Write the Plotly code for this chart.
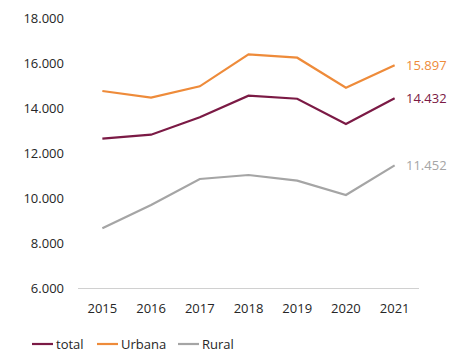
import plotly.graph_objects as go

years = ["2015", "2016", "2017", "2018", "2019", "2020", "2021"]
total = [12636, 12813, 13585, 14547, 14413, 13289, 14432]
urbana = [14756, 14458, 14963, 16385, 16236, 14903, 15897]
rural = [8652, 9689, 10844, 11022, 10770, 10133, 11452]

series = [
    ("total", total, "#7B1A45"),
    ("Urbana", urbana, "#EE8B3A"),
    ("Rural", rural, "#A5A5A5"),
]

# the page body adds an 8px offset; layout numbers are in figure coordinates
W, H = 472, 360
L, R, T, B = 70, 61, 10, 80
PW, PH = W - L - R, H - T - B


def px_x(px):
    return (px - L) / PW


def px_y(py):
    return (H - B - py) / PH


fig = go.Figure()
last_idx = len(years) - 1
for name, vals, col in series:
    fig.add_trace(go.Scatter(x=years, y=vals, name=name, mode="lines",
                             line=dict(color=col, width=2.2), showlegend=False))
    fig.add_annotation(x=last_idx, y=vals[-1], text=f"{vals[-1]:,}".replace(",", "."),
                       showarrow=False, xanchor="left", xshift=9,
                       font=dict(color=col, size=13))

# legend (manual, to match short legend keys)
legend_x = [24, 89, 170]
ly = px_y(336)
for (name, vals, col), lx in zip(series, legend_x):
    fig.add_shape(type="line", xref="paper", yref="paper",
                  x0=px_x(lx), x1=px_x(lx + 21), y0=ly, y1=ly,
                  line=dict(color=col, width=2.2))
    fig.add_annotation(xref="paper", yref="paper", x=px_x(lx + 22), y=ly,
                       text=name, showarrow=False, xanchor="left", yanchor="middle",
                       font=dict(size=13, color="#262626"))

fig.update_layout(
    width=W, height=H,
    margin=dict(l=L, r=R, t=T, b=B),
    paper_bgcolor="white", plot_bgcolor="white",
    font=dict(family="Open Sans", size=13, color="#262626"),
    separators=",.",
    showlegend=False,
    xaxis=dict(type="category", range=[-0.5, last_idx + 0.5], showgrid=False,
               showline=True, linecolor="#D0D0D0", linewidth=1, ticks="",
               zeroline=False, ticklabelstandoff=8, automargin=False),
    yaxis=dict(range=[6000, 18000], dtick=2000, tickformat=",.0f", showgrid=False,
               showline=False, zeroline=False, ticks="", ticklabelstandoff=13,
               automargin=False),
)

fig.write_html("out.html")
